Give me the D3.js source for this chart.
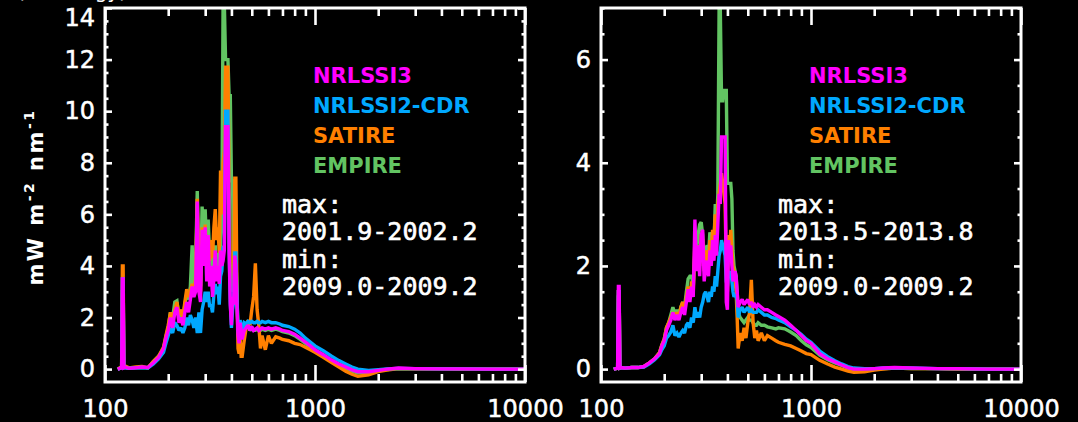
<!DOCTYPE html>
<html>
<head>
<meta charset="utf-8">
<script src="https://cdn.jsdelivr.net/npm/d3@7/dist/d3.min.js"></script>
<style>
  html, body { margin: 0; padding: 0; background: #000; }
  svg { display: block; }
</style>
</head>
<body>
<svg id="chart" width="1078" height="422"></svg>
<script>
// Wavelength grid (nm) shared by every spectrum
const wavelength = [
  115, 120, 121, 122, 123, 125, 130, 140, 150, 160,
  170, 180, 190, 195, 200, 205, 210, 215, 220, 225,
  230, 235, 240, 245, 250, 255, 260, 265, 270, 275,
  280, 285, 290, 295, 300, 305, 310, 315, 320, 325,
  330, 335, 340, 345, 350, 355, 360, 365, 370, 375,
  380, 385, 390, 395, 400, 405, 410, 415, 420, 425,
  430, 435, 440, 445, 450, 460, 470, 480, 490, 500,
  510, 520, 530, 540, 550, 560, 580, 600, 620, 650,
  680, 700, 750, 800, 850, 900, 950, 1000, 1100, 1200,
  1300, 1400, 1500, 1600, 1800, 2000, 2200, 2500, 3000, 4000,
  5000, 7000, 10000
];

// Cycle 23: max 2001.9-2002.2 minus min 2009.0-2009.2 (mW m-2 nm-1)
const nrlssi3Cycle23 = [
  0, 0.05, 3.5, 3.5, 0.05, 0.08, 0.03, 0.05, 0.08, 0.06,
  0.25, 0.45, 0.8, 1.2, 1.5, 2.0, 1.6, 2.2, 2.4, 1.8,
  2.0, 1.7, 2.2, 2.6, 2.2, 2.7, 3.2, 2.8, 3.0, 6.5,
  3.0, 2.6, 5.4, 4.0, 5.5, 3.4, 5.2, 3.2, 4.0, 2.8,
  3.5, 4.6, 3.4, 4.0, 3.3, 4.6, 4.0, 4.2, 4.6, 9.4,
  9.4, 9.4, 4.5, 2.5, 1.7, 2.8, 2.5, 4.4, 4.0, 2.5,
  1.3, 1.0, 1.8, 1.5, 1.15, 1.5, 1.6, 1.7, 1.5, 1.65,
  1.5, 1.55, 1.6, 1.5, 1.55, 1.6, 1.55, 1.6, 1.55, 1.6,
  1.55, 1.5, 1.45, 1.35, 1.2, 1.05, 0.9, 0.75, 0.55, 0.35,
  0.2, 0.08, -0.03, -0.1, -0.1, -0.05, 0, 0.04, 0.02, 0.01,
  0.01, 0, 0
];
const nrlssi2Cycle23 = [
  0, 0.05, 3.5, 3.5, 0.05, 0.05, 0.03, 0.05, 0.06, 0.04,
  0.2, 0.4, 0.65, 1.0, 1.3, 1.6, 1.4, 1.8, 1.7, 1.5,
  1.6, 1.4, 1.6, 2.0, 1.7, 2.1, 1.9, 1.6, 2.0, 1.4,
  2.2, 1.4, 2.3, 2.6, 3.0, 2.6, 3.0, 2.4, 2.5, 2.2,
  2.9, 3.3, 2.9, 3.2, 2.5, 3.6, 3.8, 4.7, 4.8, 10.0,
  10.0, 10.0, 4.8, 2.6, 1.6, 2.3, 2.6, 4.5, 4.5, 2.8,
  1.5, 1.3, 1.9, 1.7, 1.4, 1.8, 1.75, 1.85, 1.8, 1.85,
  1.8, 1.8, 1.85, 1.8, 1.8, 1.85, 1.8, 1.85, 1.8, 1.8,
  1.75, 1.7, 1.65, 1.55, 1.4, 1.2, 1.05, 0.9, 0.7, 0.5,
  0.33, 0.2, 0.08, 0.0, -0.05, -0.02, 0.01, 0.03, 0.02, 0.01,
  0.01, 0, 0
];
const satireCycle23 = [
  0, 0.1, 4.0, 4.0, 0.1, 0.12, 0.05, 0.08, 0.1, 0.05,
  0.3, 0.5, 0.85, 1.3, 1.7, 2.2, 1.9, 2.3, 2.6, 2.1,
  2.3, 2.0, 2.6, 3.1, 2.8, 3.0, 3.3, 3.0, 3.5, 6.6,
  3.5, 3.0, 5.5, 4.3, 5.6, 4.0, 5.2, 4.2, 5.0, 4.3,
  5.5, 6.2, 5.0, 5.5, 4.5, 7.7, 6.0, 8.0, 8.5, 11.7,
  11.7, 11.7, 7.0, 4.0, 3.0, 3.2, 3.5, 7.4, 7.4, 3.0,
  0.8, 0.6, 1.2, 0.5, 0.5, 1.1, 1.6, 1.9, 1.7, 2.3,
  2.8, 4.1, 2.3, 1.7, 0.8, 1.3, 0.75, 1.3, 1.0, 1.25,
  1.2, 1.15, 1.1, 1.0, 0.95, 0.85, 0.75, 0.65, 0.45, 0.25,
  0.08, -0.08, -0.2, -0.28, -0.22, -0.1, -0.04, 0.02, 0.01, 0.01,
  0, 0, 0
];
const empireCycle23 = [
  0, 0.05, 3.0, 3.0, 0.05, 0.05, 0.03, 0.05, 0.06, 0.05,
  0.3, 0.5, 0.8, 1.25, 1.6, 2.2, 2.0, 2.6, 2.65, 2.0,
  2.3, 1.9, 2.5, 2.9, 2.7, 3.2, 4.8, 3.3, 4.0, 6.9,
  3.8, 3.2, 6.3, 5.0, 6.2, 4.5, 5.8, 4.4, 4.8, 3.6,
  4.0, 4.8, 4.0, 4.5, 4.0, 5.0, 5.5, 14.2, 14.2, 12.0,
  12.0, 12.0, 10.6, 10.6, 7.3, 7.3, 3.0, 4.5, 4.5, 2.9,
  1.4, 1.2, 1.8, 1.5, 1.2, 1.5, 1.6, 1.7, 1.5, 1.6,
  1.5, 1.5, 1.55, 1.5, 1.5, 1.55, 1.5, 1.55, 1.5, 1.55,
  1.5, 1.45, 1.4, 1.3, 1.15, 1.0, 0.85, 0.7, 0.5, 0.3,
  0.15, 0.03, -0.08, -0.15, -0.14, -0.06, -0.02, 0.02, 0.01, 0.01,
  0, 0, 0
];

// Cycle 24: max 2013.5-2013.8 minus min 2009.0-2009.2 (mW m-2 nm-1)
const nrlssi3Cycle24 = [
  0, 0.02, 1.6, 1.6, 0.02, 0.03, 0.02, 0.03, 0.03, 0.05,
  0.12, 0.2, 0.3, 0.45, 0.55, 0.75, 0.85, 0.95, 1.1, 0.95,
  1.05, 0.95, 1.1, 1.2, 1.05, 1.3, 1.55, 1.3, 1.6, 1.4,
  2.9, 1.9, 2.4, 1.8, 2.6, 2.7, 1.7, 2.0, 2.1, 1.8,
  2.3, 2.0, 2.5, 2.1, 2.6, 2.2, 2.8, 3.4, 3.2, 4.5,
  4.5, 4.5, 4.5, 1.3, 1.15, 2.5, 2.2, 2.4, 2.0, 1.7,
  1.8, 1.9, 1.8, 1.5, 1.2, 1.3, 1.35, 1.25, 1.3, 1.35,
  1.25, 1.3, 1.2, 1.25, 1.2, 1.25, 1.2, 1.15, 1.15, 1.1,
  1.05, 1.02, 0.95, 0.85, 0.75, 0.65, 0.55, 0.5, 0.3, 0.2,
  0.14, 0.08, 0.03, 0, 0, 0.01, 0.02, 0.03, 0.02, 0.01,
  0.01, 0, 0
];
const nrlssi2Cycle24 = [
  0, 0.02, 1.5, 1.5, 0.02, 0.03, 0.02, 0.03, 0.03, 0.04,
  0.1, 0.18, 0.28, 0.38, 0.45, 0.6, 0.65, 0.72, 0.85, 0.65,
  0.7, 0.62, 0.7, 0.75, 0.7, 0.85, 0.9, 0.8, 1.0, 0.9,
  1.2, 1.0, 1.1, 1.0, 1.2, 1.3, 1.45, 1.5, 1.4, 1.3,
  1.5, 1.4, 1.6, 1.5, 1.8, 1.6, 1.9, 2.2, 2.3, 2.5,
  2.4, 2.3, 2.2, 1.7, 1.6, 1.9, 1.8, 1.9, 1.7, 1.5,
  1.4, 1.45, 1.4, 1.35, 1.0, 1.15, 1.2, 1.1, 1.15, 1.2,
  1.1, 1.15, 1.1, 1.1, 1.1, 1.15, 1.1, 1.05, 1.05, 1.0,
  0.98, 0.95, 0.9, 0.82, 0.75, 0.67, 0.58, 0.52, 0.35, 0.24,
  0.16, 0.1, 0.05, 0.02, 0.01, 0.01, 0.02, 0.02, 0.02, 0.01,
  0.01, 0, 0
];
const satireCycle24 = [
  0, 0.02, 1.5, 1.5, 0.02, 0.03, 0.02, 0.03, 0.03, 0.05,
  0.12, 0.2, 0.32, 0.47, 0.58, 0.8, 0.9, 1.0, 1.1, 1.0,
  1.1, 1.0, 1.2, 1.3, 1.15, 1.4, 1.6, 1.4, 1.7, 1.5,
  2.5, 2.1, 2.4, 2.0, 2.6, 2.5, 1.9, 2.2, 2.3, 2.1,
  2.5, 2.3, 2.7, 2.5, 3.0, 2.6, 3.2, 3.4, 3.6, 3.8,
  3.6, 3.4, 3.2, 2.0, 1.5, 2.6, 2.3, 2.7, 2.3, 2.0,
  1.9, 1.7, 1.5, 1.0, 0.4, 0.7, 0.55, 0.8, 0.6, 0.9,
  1.1, 1.73, 0.9, 0.6, 0.75, 0.55, 0.7, 0.55, 0.65, 0.6,
  0.55, 0.52, 0.48, 0.45, 0.4, 0.35, 0.3, 0.28, 0.17, 0.1,
  0.04, 0, -0.04, -0.06, -0.05, -0.02, 0, 0.02, 0.01, 0.01,
  0, 0, 0
];
const empireCycle24 = [
  0, 0.02, 1.4, 1.4, 0.02, 0.03, 0.02, 0.03, 0.03, 0.05,
  0.12, 0.2, 0.32, 0.47, 0.58, 0.8, 0.9, 1.05, 1.2, 1.05,
  1.15, 1.05, 1.2, 1.3, 1.2, 1.5, 1.75, 1.8, 1.8, 1.6,
  2.3, 2.3, 2.6, 2.8, 2.85, 2.6, 2.0, 2.3, 2.4, 2.2,
  2.65, 2.5, 2.6, 2.4, 3.2, 2.7, 3.4, 6.95, 6.95, 5.2,
  5.2, 5.4, 5.4, 5.4, 3.6, 3.6, 3.6, 3.6, 3.3, 2.3,
  2.0, 1.9, 1.8, 1.5, 1.1, 1.0, 0.95, 0.9, 0.95, 1.0,
  0.95, 0.95, 0.9, 0.85, 0.85, 0.9, 0.85, 0.85, 0.82, 0.8,
  0.78, 0.8, 0.78, 0.72, 0.65, 0.55, 0.47, 0.42, 0.27, 0.18,
  0.12, 0.07, 0.02, -0.01, -0.01, 0, 0.01, 0.02, 0.01, 0.01,
  0, 0, 0
];

const seriesNames = ["NRLSSI3", "NRLSSI2-CDR", "SATIRE", "EMPIRE"];
const xMajorTicks = [100, 1000, 10000];
const xMinorTicks = [200, 300, 400, 500, 600, 700, 800, 900,
                     2000, 3000, 4000, 5000, 6000, 7000, 8000, 9000];
const yTicksCycle23 = [0, 2, 4, 6, 8, 10, 12, 14];
const yTicksCycle24 = [0, 2, 4, 6];
const maxPeriodCycle23 = "2001.9-2002.2";
const maxPeriodCycle24 = "2013.5-2013.8";
const minPeriodCycle23 = "2009.0-2009.2";
const minPeriodCycle24 = "2009.0-2009.2";

// ---- styling ----
const seriesColors = ["#ff00ff", "#00a8ff", "#ff8000", "#62c462"];
const plotTop = 8, plotBottom = 382, plotWidth = 420;
const white = "#ffffff";

const svg = d3.select("#chart");
svg.append("rect").attr("width", 1078).attr("height", 422).attr("fill", "#000");

const panels = [
  { id: "c23", left: 105, yMax: 14, yTicks: yTicksCycle23,
    maxLabel: maxPeriodCycle23, minLabel: minPeriodCycle23,
    series: [nrlssi3Cycle23, nrlssi2Cycle23, satireCycle23, empireCycle23] },
  { id: "c24", left: 601, yMax: 7, yTicks: yTicksCycle24,
    maxLabel: maxPeriodCycle24, minLabel: minPeriodCycle24,
    series: [nrlssi3Cycle24, nrlssi2Cycle24, satireCycle24, empireCycle24] }
];

function styleAxis(g, showText) {
  g.select(".domain").remove();
  g.selectAll(".tick line").attr("stroke", white).attr("stroke-width", 2.6);
  g.selectAll(".tick text")
    .attr("fill", white)
    .attr("stroke", white)
    .attr("stroke-width", 0.5)
    .attr("font-family", "DejaVu Sans, sans-serif")
    .attr("font-size", 24)
    .style("display", showText ? null : "none");
}

panels.forEach(p => {
  const right = p.left + plotWidth;
  const x = d3.scaleLog().domain([100, 10000]).range([p.left, right]);
  const y = d3.scaleLinear().domain([-p.yMax / 28, p.yMax]).range([plotBottom, plotTop]);

  const yMinor = d3.range(0, p.yMax + 0.001, 0.5).filter(v => !p.yTicks.includes(v));

  // clip region for the spectra
  svg.append("clipPath").attr("id", "clip-" + p.id)
    .append("rect").attr("x", p.left).attr("y", plotTop)
    .attr("width", plotWidth).attr("height", plotBottom - plotTop);

  const line = d3.line()
    .x((d, i) => x(wavelength[i]))
    .y(d => y(d));

  const spectra = svg.append("g").attr("clip-path", `url(#clip-${p.id})`);
  // EMPIRE drawn first, NRLSSI3 last (on top)
  [3, 2, 1, 0].forEach(k => {
    spectra.append("path")
      .datum(p.series[k])
      .attr("d", line)
      .attr("fill", "none")
      .attr("stroke", seriesColors[k])
      .attr("stroke-width", 3.4)
      .attr("stroke-linejoin", "miter")
      .attr("stroke-miterlimit", 2);
  });

  // bottom axis
  svg.append("g").attr("transform", `translate(0,${plotBottom})`)
    .call(d3.axisBottom(x).tickValues(xMajorTicks).tickSizeInner(-17).tickSizeOuter(0)
      .tickPadding(18).tickFormat(d3.format("d")))
    .call(g => styleAxis(g, true));
  svg.append("g").attr("transform", `translate(0,${plotBottom})`)
    .call(d3.axisBottom(x).tickValues(xMinorTicks).tickSizeInner(-8).tickSizeOuter(0).tickFormat(""))
    .call(g => styleAxis(g, false));
  // top axis
  svg.append("g").attr("transform", `translate(0,${plotTop})`)
    .call(d3.axisTop(x).tickValues(xMajorTicks).tickSizeInner(-17).tickSizeOuter(0).tickFormat(""))
    .call(g => styleAxis(g, false));
  svg.append("g").attr("transform", `translate(0,${plotTop})`)
    .call(d3.axisTop(x).tickValues(xMinorTicks).tickSizeInner(-8).tickSizeOuter(0).tickFormat(""))
    .call(g => styleAxis(g, false));
  // left axis
  svg.append("g").attr("transform", `translate(${p.left},0)`)
    .call(d3.axisLeft(y).tickValues(p.yTicks).tickSizeInner(-7).tickSizeOuter(0)
      .tickPadding(10).tickFormat(d3.format("d")))
    .call(g => styleAxis(g, true))
    // keep the topmost label inside the figure
    .call(g => g.selectAll(".tick text").filter(d => d === p.yMax).attr("y", 10));
  svg.append("g").attr("transform", `translate(${p.left},0)`)
    .call(d3.axisLeft(y).tickValues(yMinor).tickSizeInner(-3.5).tickSizeOuter(0).tickFormat(""))
    .call(g => styleAxis(g, false));
  // right axis
  svg.append("g").attr("transform", `translate(${right},0)`)
    .call(d3.axisRight(y).tickValues(p.yTicks).tickSizeInner(-7).tickSizeOuter(0).tickFormat(""))
    .call(g => styleAxis(g, false));
  svg.append("g").attr("transform", `translate(${right},0)`)
    .call(d3.axisRight(y).tickValues(yMinor).tickSizeInner(-3.5).tickSizeOuter(0).tickFormat(""))
    .call(g => styleAxis(g, false));

  // frame
  svg.append("rect")
    .attr("x", p.left).attr("y", plotTop)
    .attr("width", plotWidth).attr("height", plotBottom - plotTop)
    .attr("fill", "none").attr("stroke", white).attr("stroke-width", 3);

  // legend
  seriesNames.forEach((name, k) => {
    svg.append("text")
      .attr("x", p.left + 208).attr("y", 83 + k * 30)
      .attr("fill", seriesColors[k])
      .attr("font-family", "DejaVu Sans, sans-serif")
      .attr("font-weight", "bold")
      .attr("font-size", 21)
      .text(name);
  });

  // period annotation
  const periodLines = [["max:", 213], [p.maxLabel, 240], ["min:", 268], [p.minLabel, 295]];
  periodLines.forEach(([txt, yy]) => {
    svg.append("text")
      .attr("x", p.left + 177).attr("y", yy)
      .attr("fill", white)
      .attr("stroke", white)
      .attr("stroke-width", 0.6)
      .attr("font-family", "DejaVu Sans Mono, monospace")
      .attr("font-size", 25)
      .text(txt);
  });
});

// y-axis title
const yTitle = svg.append("text")
  .attr("transform", "translate(43,197) rotate(-90)")
  .attr("text-anchor", "middle")
  .attr("fill", white)
  .attr("font-family", "DejaVu Sans, sans-serif")
  .attr("font-weight", "bold")
  .attr("font-size", 21)
  .attr("letter-spacing", 2.5);
yTitle.append("tspan").text("mW m");
yTitle.append("tspan").attr("dy", -9).attr("font-size", 14).text("-2");
yTitle.append("tspan").attr("dy", 9).text(" nm");
yTitle.append("tspan").attr("dy", -9).attr("font-size", 14).text("-1");

// figure title running off the top edge
svg.append("text")
  .attr("x", 127).attr("y", -2)
  .attr("text-anchor", "end")
  .attr("fill", white)
  .attr("font-family", "DejaVu Sans, sans-serif")
  .attr("font-size", 20)
  .text("(in energy)");
</script>
</body>
</html>
